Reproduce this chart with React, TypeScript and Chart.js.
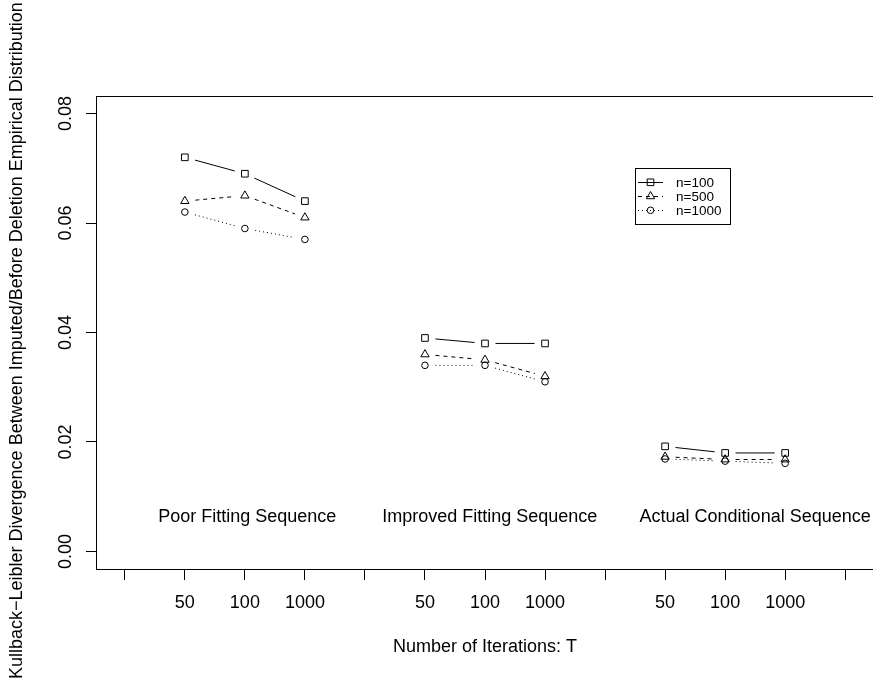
import React, { useEffect, useRef } from "react";
import { Chart, registerables } from "chart.js";

Chart.register(...registerables);

// ---------------- data ----------------
const groupNames = ["Poor Fitting Sequence", "Improved Fitting Sequence", "Actual Conditional Sequence"];
const groupLabelX = [3.04, 7.08, 11.5];
const groupLabelY = 0.0053;

const xTickPositions = [1, 2, 3, 4, 5, 6, 7, 8, 9, 10, 11, 12, 13];
const xTickLabels = ["", "50", "100", "1000", "", "50", "100", "1000", "", "50", "100", "1000", ""];

const pointX = [2, 3, 4, 6, 7, 8, 10, 11, 12];
const pointGroup = [0, 0, 0, 1, 1, 1, 2, 2, 2];

const n100 = [0.072, 0.069, 0.064, 0.039, 0.038, 0.038, 0.0192, 0.018, 0.018];
const n500 = [0.064, 0.065, 0.061, 0.036, 0.035, 0.032, 0.0173, 0.0168, 0.0168];
const n1000 = [0.062, 0.059, 0.057, 0.034, 0.034, 0.031, 0.0169, 0.0165, 0.0161];

const seriesNames = ["n=100", "n=500", "n=1000"];

const yTicks = [0, 0.02, 0.04, 0.06, 0.08];
const yTickLabels = ["0.00", "0.02", "0.04", "0.06", "0.08"];

const xTitle = "Number of Iterations: T";
const yTitle = "Kullback\u2212Leibler Divergence Between Imputed/Before Deletion Empirical Distribution";

// ---------------- styles ----------------
const FONT = "'Liberation Sans', Arial, Helvetica, sans-serif";
const styles = [
  { pointStyle: "rect", radius: 4.7, dash: [] as number[] },
  { pointStyle: "triangle", radius: 4.8, dash: [4, 4] },
  { pointStyle: "circle", radius: 3.3, dash: [1, 3] },
];
const GAP = 10.5;

function drawMarker(ctx: CanvasRenderingContext2D, style: string, x: number, y: number, r: number) {
  ctx.beginPath();
  if (style === "rect") {
    const s = Math.SQRT1_2 * r;
    ctx.rect(x - s, y - s, 2 * s, 2 * s);
  } else if (style === "triangle") {
    let rad = 0;
    ctx.moveTo(x + Math.sin(rad) * r, y - Math.cos(rad) * r);
    rad += (2 * Math.PI) / 3;
    ctx.lineTo(x + Math.sin(rad) * r, y - Math.cos(rad) * r);
    rad += (2 * Math.PI) / 3;
    ctx.lineTo(x + Math.sin(rad) * r, y - Math.cos(rad) * r);
    ctx.closePath();
  } else {
    ctx.arc(x, y, r, 0, Math.PI * 2);
  }
  ctx.stroke();
}

const gapLinesPlugin = {
  id: "gapLines",
  afterDatasetsDraw(chart: any) {
    const ctx: CanvasRenderingContext2D = chart.ctx;
    ctx.save();
    ctx.strokeStyle = "#000";
    ctx.lineWidth = 1;
    chart.data.datasets.forEach((ds: any, di: number) => {
      const meta = chart.getDatasetMeta(di);
      const pts = meta.data;
      ctx.setLineDash(styles[di].dash);
      for (let j = 0; j < pts.length - 1; j++) {
        if (pointGroup[j] !== pointGroup[j + 1]) continue;
        const p1 = pts[j];
        const p2 = pts[j + 1];
        const dx = p2.x - p1.x;
        const dy = p2.y - p1.y;
        const len = Math.hypot(dx, dy);
        if (len <= 2 * GAP) continue;
        const ux = dx / len;
        const uy = dy / len;
        ctx.beginPath();
        ctx.lineDashOffset = 0;
        ctx.moveTo(p1.x + ux * GAP, p1.y + uy * GAP);
        ctx.lineTo(p2.x - ux * GAP, p2.y - uy * GAP);
        ctx.stroke();
      }
    });
    ctx.restore();
  },
};

const decorPlugin = {
  id: "decor",
  afterDraw(chart: any) {
    const ctx: CanvasRenderingContext2D = chart.ctx;
    const { left, right, top, bottom } = chart.chartArea;
    const xs = chart.scales.x;
    const ys = chart.scales.y;
    ctx.save();
    ctx.strokeStyle = "#000";
    ctx.fillStyle = "#000";
    ctx.lineWidth = 1;
    ctx.setLineDash([]);
    // frame
    const L = Math.round(left) + 0.5;
    const R = Math.round(right) + 0.5;
    const T = Math.round(top) + 0.5;
    const B = Math.round(bottom) + 0.5;
    ctx.strokeRect(L, T, R - L, B - T);

    // y tick labels (rotated, as in R)
    ctx.font = `18px ${FONT}`;
    ctx.textAlign = "center";
    ctx.textBaseline = "alphabetic";
    yTicks.forEach((v, i) => {
      const py = ys.getPixelForValue(v);
      ctx.save();
      ctx.translate(71, py);
      ctx.rotate(-Math.PI / 2);
      ctx.fillText(yTickLabels[i], 0, 0);
      ctx.restore();
    });

    // y title
    ctx.save();
    ctx.translate(22, 679);
    ctx.rotate(-Math.PI / 2);
    ctx.textAlign = "left";
    ctx.fillText(yTitle, 0, 0);
    ctx.restore();

    // group labels
    ctx.textAlign = "center";
    groupNames.forEach((name, i) => {
      ctx.fillText(name, xs.getPixelForValue(groupLabelX[i]), ys.getPixelForValue(groupLabelY));
    });

    // legend
    const bx = 635.5, by = 168.5, bw = 95, bh = 56;
    ctx.strokeRect(bx, by, bw, bh);
    ctx.font = `13.5px ${FONT}`;
    ctx.textAlign = "left";
    const rowY = [182.3, 196.3, 210.3];
    seriesNames.forEach((name, i) => {
      const y = rowY[i];
      ctx.setLineDash(styles[i].dash);
      ctx.beginPath();
      ctx.moveTo(638, Math.round(y) + 0.5);
      ctx.lineTo(663, Math.round(y) + 0.5);
      ctx.stroke();
      ctx.setLineDash([]);
      drawMarker(ctx, styles[i].pointStyle, 650.5, y, styles[i].radius);
      ctx.fillText(name, 676, y + 4.8);
    });
    ctx.restore();
  },
};

export default function App() {
  const canvasRef = useRef<HTMLCanvasElement | null>(null);

  useEffect(() => {
    if (!canvasRef.current) return;
    const seriesValues = [n100, n500, n1000];
    const chart = new Chart(canvasRef.current, {
      type: "scatter",
      data: {
        datasets: seriesValues.map((vals, i) => ({
          label: seriesNames[i],
          data: pointX.map((x, j) => ({ x, y: vals[j] })),
          showLine: false,
          pointStyle: styles[i].pointStyle as any,
          pointRadius: styles[i].radius,
          pointHoverRadius: styles[i].radius,
          pointBorderWidth: 1,
          borderColor: "#000",
          backgroundColor: "rgba(0,0,0,0)",
          pointBackgroundColor: "rgba(0,0,0,0)",
          pointBorderColor: "#000",
        })),
      },
      options: {
        responsive: false,
        maintainAspectRatio: false,
        animation: false,
        layout: { padding: { top: 96, right: 6, left: 0, bottom: 0 } },
        plugins: {
          legend: { display: false },
          tooltip: { enabled: false },
        },
        scales: {
          x: {
            type: "linear",
            position: "bottom",
            min: 0.52,
            max: 13.48,
            afterBuildTicks: (s: any) => {
              s.ticks = xTickPositions.map((v) => ({ value: v }));
            },
            afterFit: (s: any) => {
              s.height = 112;
            },
            ticks: {
              autoSkip: false,
              maxRotation: 0,
              minRotation: 0,
              padding: 12,
              color: "#000",
              font: { family: FONT, size: 18 },
              callback: (v: any) => xTickLabels[xTickPositions.indexOf(Number(v))] ?? "",
            },
            grid: {
              display: true,
              drawOnChartArea: false,
              drawTicks: true,
              tickLength: 11,
              color: "#000",
              lineWidth: 1,
            },
            border: { display: false },
            title: {
              display: true,
              text: xTitle,
              color: "#000",
              font: { family: FONT, size: 18 },
              padding: { top: 0, bottom: 23 },
            },
          },
          y: {
            type: "linear",
            position: "left",
            min: -0.0032,
            max: 0.0832,
            afterBuildTicks: (s: any) => {
              s.ticks = yTicks.map((v) => ({ value: v }));
            },
            afterFit: (s: any) => {
              s.width = 96;
            },
            ticks: { display: false },
            grid: {
              display: true,
              drawOnChartArea: false,
              drawTicks: true,
              tickLength: 10,
              color: "#000",
              lineWidth: 1,
            },
            border: { display: false },
            title: { display: false },
          },
        },
      },
      plugins: [gapLinesPlugin, decorPlugin],
    });
    return () => chart.destroy();
  }, []);

  return (
    <div
      style={{
        position: "fixed",
        left: 0,
        top: 0,
        width: 873,
        height: 681,
        overflow: "hidden",
        background: "#fff",
      }}
    >
      <canvas ref={canvasRef} width={880} height={681} style={{ display: "block", width: 880, height: 681 }} />
    </div>
  );
}
